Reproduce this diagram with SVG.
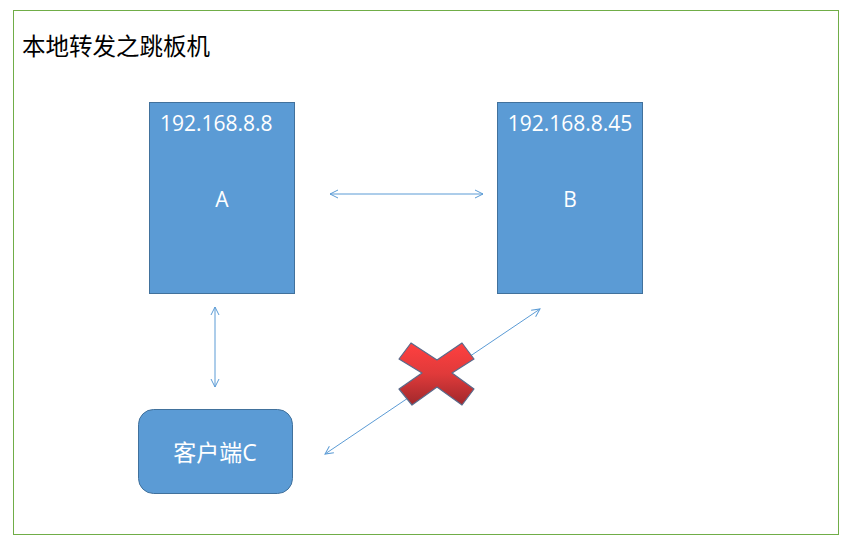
<svg xmlns="http://www.w3.org/2000/svg" width="853" height="547" viewBox="0 0 853 547">
<style>
.box{fill:#5B9BD5;stroke:#41719C;stroke-width:1}
.wt{fill:#fff;font-family:"Open Sans","Noto Sans","Noto Sans CJK SC",sans-serif}
.conn{stroke:#5B9BD5;stroke-width:1;fill:none;marker-start:url(#ah);marker-end:url(#ah)}
</style>
<defs>
<marker id="ah" viewBox="0 0 10 10" refX="9" refY="5" markerWidth="10" markerHeight="10" markerUnits="userSpaceOnUse" orient="auto-start-reverse">
<path d="M1,1 L9,5 L1,9" fill="none" stroke="#5B9BD5" stroke-width="1"/>
</marker>
<linearGradient id="rg" x1="0" y1="0" x2="0" y2="1">
<stop offset="0" stop-color="#FF4040"/>
<stop offset="0.5" stop-color="#E03A3A"/>
<stop offset="1" stop-color="#A0282C"/>
</linearGradient>
</defs>
<rect width="853" height="547" fill="#fff"/>
<rect x="13.5" y="10.5" width="825" height="524" fill="none" stroke="#70AD47" stroke-width="1"/>
<text x="22" y="55" font-size="23.5" font-family="'Noto Sans CJK SC',sans-serif" fill="#000">本地转发之跳板机</text>
<g id="nodeA">
<rect class="box" x="149.5" y="102.5" width="145" height="191"/>
<text class="wt" x="160" y="131" font-size="21">192.168.8.8</text>
<text class="wt" x="222" y="207" font-size="21" text-anchor="middle">A</text>
</g>
<g id="nodeB">
<rect class="box" x="497.5" y="102.5" width="145" height="191"/>
<text class="wt" x="570" y="131" font-size="21" text-anchor="middle">192.168.8.45</text>
<text class="wt" x="570" y="207" font-size="21" text-anchor="middle">B</text>
</g>
<g id="nodeC">
<rect class="box" x="138.5" y="409.5" width="154" height="84" rx="15"/>
<text class="wt" x="215" y="461" font-size="23" text-anchor="middle">客户端C</text>
</g>
<g id="connectors">
<line class="conn" x1="330" y1="194" x2="483" y2="194"/>
<line class="conn" x1="215" y1="307" x2="215" y2="387"/>
<line class="conn" x1="325" y1="454" x2="540" y2="309"/>
</g>
<g id="cross">
<polygon points="411,343 437,360 462,343 474,359 452,373 474,389 462,405 437,387 412,405 399,389 422,373 399,359" fill="url(#rg)" stroke="#5A6A8A" stroke-width="1.2" stroke-linejoin="round"/>
</g>
</svg>
